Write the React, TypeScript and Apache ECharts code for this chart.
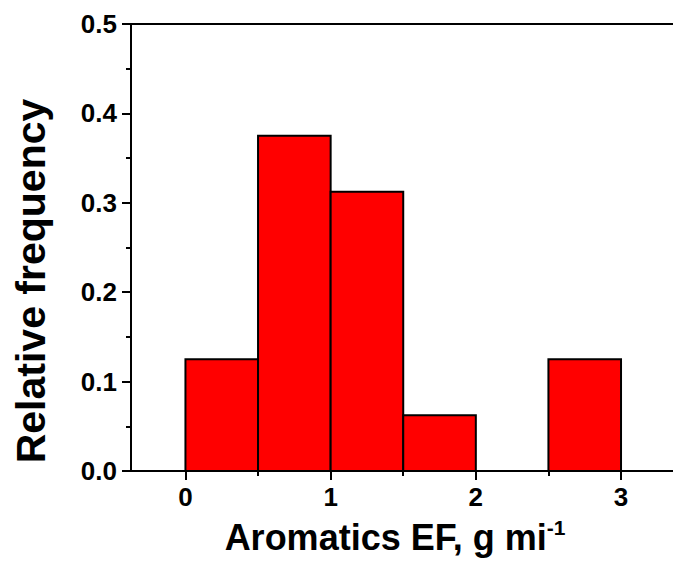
import React, { useEffect, useRef } from "react";
import * as echarts from "echarts";

const binStarts = [0, 0.5, 1, 1.5, 2.5];
const binEnds = [0.5, 1, 1.5, 2, 3];
const frequencies = [0.125, 0.375, 0.3125, 0.0625, 0.125];
const xMajorTicks = [0, 1, 2, 3];
const xMinorTicks = [0.5, 1.5, 2.5];
const xTitle = "Aromatics EF, g mi";
const xTitleSup = "-1";
const yTitle = "Relative frequency";

const FONT = "'Liberation Sans', Arial, Helvetica, sans-serif";

export default function App() {
  const ref = useRef<HTMLDivElement>(null);
  useEffect(() => {
    if (!ref.current) return;
    const chart = echarts.init(ref.current, null, { renderer: "svg" });
    const data = binStarts.map((s, i) => [s, binEnds[i], frequencies[i]]);
    const gridRect = { left: 131, top: 24, right: 0, height: 447 };
    const xMin = -0.375;
    const xMax = 3.358;
    chart.setOption({
      animation: false,
      backgroundColor: "#ffffff",
      grid: [
        { ...gridRect, containLabel: false },
        { ...gridRect, containLabel: false },
      ],
      xAxis: [
        {
          type: "value",
          gridIndex: 0,
          position: "bottom",
          min: xMin,
          max: xMax,
          splitLine: { show: false },
          axisLine: { show: true, onZero: false, lineStyle: { color: "#000", width: 2 } },
          axisTick: {
            show: true,
            inside: false,
            length: 9,
            customValues: xMajorTicks,
            lineStyle: { color: "#000", width: 2 },
          },
          axisLabel: {
            show: true,
            customValues: xMajorTicks,
            margin: 13,
            color: "#000",
            fontSize: 26,
            fontWeight: "bold",
            fontFamily: FONT,
            formatter: (v: number) => String(v),
          },
        },
        {
          type: "value",
          gridIndex: 0,
          position: "top",
          min: xMin,
          max: xMax,
          splitLine: { show: false },
          axisLine: { show: true, onZero: false, lineStyle: { color: "#000", width: 2 } },
          axisTick: { show: false },
          axisLabel: { show: false },
        },
        {
          type: "value",
          gridIndex: 1,
          position: "bottom",
          min: xMin,
          max: xMax,
          splitLine: { show: false },
          axisLine: { show: false, onZero: false },
          axisTick: {
            show: true,
            inside: false,
            length: 5,
            customValues: xMinorTicks,
            lineStyle: { color: "#000", width: 2 },
          },
          axisLabel: { show: false },
        },
      ],
      yAxis: [
        {
          type: "value",
          gridIndex: 0,
          min: 0,
          max: 0.5,
          interval: 0.1,
          splitLine: { show: false },
          axisLine: { show: true, onZero: false, lineStyle: { color: "#000", width: 2 } },
          axisTick: { show: true, inside: false, length: 9, lineStyle: { color: "#000", width: 2 } },
          minorTick: { show: true, splitNumber: 2, length: 5, lineStyle: { color: "#000", width: 2 } },
          axisLabel: {
            margin: 14,
            color: "#000",
            fontSize: 26,
            fontWeight: "bold",
            fontFamily: FONT,
            formatter: (v: number) => v.toFixed(1),
          },
        },
        {
          type: "value",
          gridIndex: 1,
          min: 0,
          max: 0.5,
          show: false,
        },
      ],
      series: [
        {
          type: "custom",
          xAxisIndex: 0,
          yAxisIndex: 0,
          data,
          encode: { x: [0, 1], y: 2 },
          renderItem: (params: any, api: any) => {
            const s = api.value(0);
            const e = api.value(1);
            const v = api.value(2);
            const p0 = api.coord([s, v]);
            const p1 = api.coord([e, 0]);
            return {
              type: "rect",
              shape: { x: p0[0], y: p0[1], width: p1[0] - p0[0], height: p1[1] - p0[1] },
              style: { fill: "#ff0000", stroke: "#000", lineWidth: 2 },
            };
          },
        },
      ],
      graphic: [
        {
          type: "text",
          x: 395,
          y: 537,
          style: {
            text: `{a|${xTitle}}{b|${xTitleSup}}`,
            align: "center",
            verticalAlign: "middle",
            fill: "#000",
            rich: {
              a: { fontSize: 36, fontWeight: "bold", fontFamily: FONT, fill: "#000", lineHeight: 40 },
              b: {
                fontSize: 21,
                fontWeight: "bold",
                fontFamily: FONT,
                fill: "#000",
                verticalAlign: "top",
                lineHeight: 22,
              },
            },
          },
        },
        {
          type: "text",
          x: 31,
          y: 281,
          rotation: Math.PI / 2,
          style: {
            text: yTitle,
            align: "center",
            verticalAlign: "middle",
            fill: "#000",
            fontSize: 41,
            fontWeight: "bold",
            fontFamily: FONT,
          },
        },
      ],
    });
    return () => chart.dispose();
  }, []);
  return (
    <div
      ref={ref}
      style={{ position: "absolute", left: 0, top: 0, width: 673, height: 563, background: "#fff" }}
    />
  );
}
